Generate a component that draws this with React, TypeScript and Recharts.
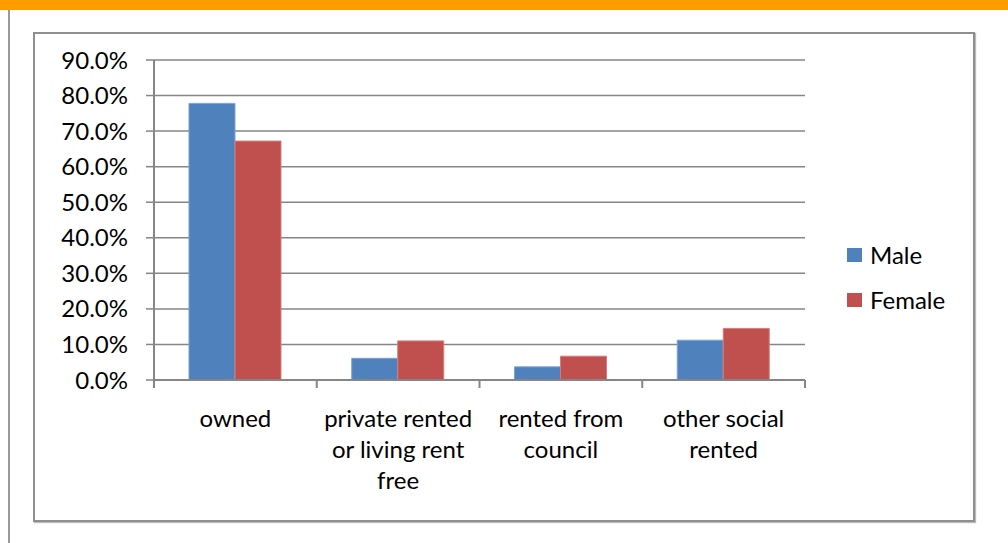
import { BarChart, Bar, XAxis, YAxis, CartesianGrid, Legend } from 'recharts';

const categories = ['owned', 'private rented or living rent free', 'rented from council', 'other social rented'];
const categoryLines = [['owned'], ['private rented', 'or living rent', 'free'], ['rented from', 'council'], ['other social', 'rented']];
const seriesNames = ['Male', 'Female'];
const male = [77.8, 6.1, 3.7, 11.2];
const female = [67.2, 11.0, 6.7, 14.5];
const yTicks = [0, 10, 20, 30, 40, 50, 60, 70, 80, 90];

const data = categories.map((name, i) => ({ name, Male: male[i], Female: female[i] }));

const FONT = 'Lato, "Open Sans", sans-serif';
const FS = 24;
const AXIS = '#868686';

function CategoryTick(props: any) {
  const { x, y, payload, index } = props;
  const half = payload?.offset ?? 81.4;
  const lines = categoryLines[index] ?? [String(payload.value)];
  const last = index === categories.length - 1;
  return (
    <g>
      <line x1={x - half} y1={y} x2={x - half} y2={y + 8} stroke={AXIS} strokeWidth={2} />
      {last && <line x1={x + half} y1={y} x2={x + half} y2={y + 8} stroke={AXIS} strokeWidth={2} />}
      <text x={x} y={y + 47} textAnchor="middle" fontFamily={FONT} fontSize={FS} fill="#000">
        {lines.map((l, i) => (
          <tspan key={i} x={x} dy={i === 0 ? 0 : 31}>
            {l}
          </tspan>
        ))}
      </text>
    </g>
  );
}

function LegendBox({ payload }: any) {
  const items = [...(payload || [])].sort((a: any, b: any) => seriesNames.indexOf(a.value) - seriesNames.indexOf(b.value));
  return (
    <div style={{ fontFamily: FONT, fontSize: FS, color: '#000' }}>
      {items.map((p: any) => (
        <div key={p.value} style={{ display: 'flex', alignItems: 'center', height: 45 }}>
          <span style={{ width: 15, height: 14, background: p.color, marginRight: 8, display: 'inline-block' }} />
          <span>{p.value}</span>
        </div>
      ))}
    </div>
  );
}

export default function App() {
  return (
    <div style={{ position: 'absolute', left: 0, top: 0, width: 1008, height: 543, background: '#fff', overflow: 'hidden' }}>
      <div style={{ position: 'absolute', left: 0, top: 0, width: 1008, height: 10, background: '#ff9c00' }} />
      <div style={{ position: 'absolute', left: 8, top: 10, width: 2, height: 533, background: '#9a9a9a' }} />
      <div
        style={{
          position: 'absolute',
          left: 33,
          top: 32,
          width: 938,
          height: 486,
          border: '2px solid #8f8f8f',
          boxShadow: '1px 1px 1px #bbb',
        }}
      />
      <div style={{ position: 'absolute', left: 0, top: 0 }}>
        <BarChart
          width={1008}
          height={543}
          data={data}
          margin={{ top: 60, right: 203, bottom: 0, left: 0 }}
          barCategoryGap="21.5%"
          barGap={0}
        >
          <CartesianGrid vertical={false} stroke={AXIS} strokeWidth={1.5} />
          <XAxis
            dataKey="name"
            height={163}
            axisLine={{ stroke: AXIS, strokeWidth: 2 }}
            tickLine={false}
            tickSize={0}
            tickMargin={0}
            interval={0}
            tick={<CategoryTick />}
          />
          <YAxis
            width={154}
            domain={[0, 90]}
            ticks={yTicks}
            tickFormatter={(v: number) => `${v.toFixed(1)}%`}
            axisLine={{ stroke: AXIS, strokeWidth: 2 }}
            tickLine={{ stroke: AXIS, strokeWidth: 1.5 }}
            tickSize={8}
            tickMargin={18}
            tick={{ fontFamily: FONT, fontSize: FS, fill: '#000' }}
          />
          <Legend
            layout="horizontal"
            verticalAlign="middle"
            align="center"
            wrapperStyle={{ left: 847, top: 232, width: 130 }}
            content={<LegendBox />}
          />
          <Bar dataKey="Male" fill="#4f81bd" stroke="#7ea3d3" strokeWidth={1} isAnimationActive={false} />
          <Bar dataKey="Female" fill="#c0504d" stroke="#d67d7a" strokeWidth={1} isAnimationActive={false} />
        </BarChart>
      </div>
    </div>
  );
}
